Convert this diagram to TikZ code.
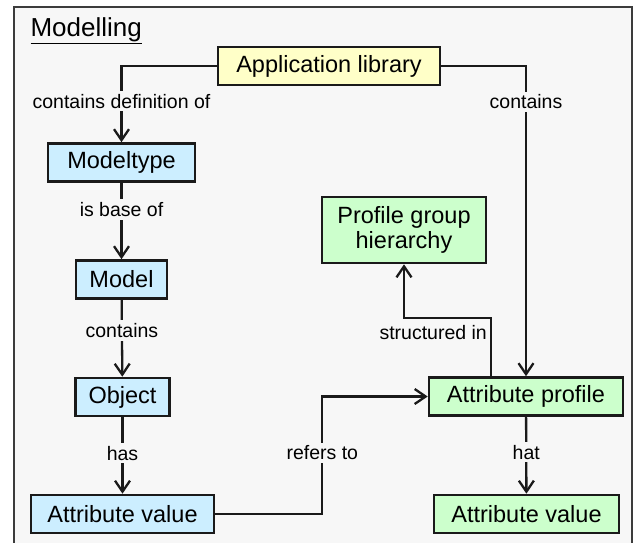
\documentclass[tikz,border=0pt]{standalone}
\usepackage{fontspec}
\setmainfont{Liberation Sans}
\usetikzlibrary{arrows.meta}
\definecolor{libyellow}{HTML}{FFFFC8}
\definecolor{modblue}{HTML}{CCEEFF}
\definecolor{profgreen}{HTML}{CCFFCC}
\definecolor{bggray}{HTML}{F7F7F7}
\definecolor{linecol}{HTML}{1A1A1A}
\begin{document}
\begin{tikzpicture}[
      x=1pt, y=-1pt,
      >={Straight Barb[length=11pt,width=15pt]},
      box/.style={draw=linecol, line width=2.6pt, minimum height=38pt,
        inner xsep=13pt, font=\fontsize{23.5}{25}\selectfont},
      libbox/.style={box, fill=libyellow},
      modbox/.style={box, fill=modblue},
      profbox/.style={box, fill=profgreen},
      lbl/.style={fill=bggray, inner sep=3pt, font=\fontsize{19.5}{22}\selectfont},
      link/.style={draw=linecol, line width=2.3pt},
    ]
    \useasboundingbox (0,0) rectangle (642,542);
    \draw[draw=linecol!85, line width=2.2pt, fill=bggray] (14,7) rectangle (632,560);
    \node[anchor=base west, font=\fontsize{26}{28}\selectfont] (title) at (27,36) {\underline{Modelling}};

    % boxes
    \node[libbox, minimum width=222pt] (app) at (329,66) {Application library};
    \node[modbox, minimum width=147pt] (mtype) at (121.5,162.5) {Modeltype};
    \node[modbox, minimum width=91pt] (model) at (121.5,279.5) {Model};
    \node[modbox, minimum width=93pt] (obj) at (122.5,397) {Object};
    \node[modbox, minimum width=183pt] (avb) at (122.5,514) {Attribute value};
    \node[profbox, minimum width=164pt, minimum height=66pt, align=center] (pgh) at (404,230)
      {Profile group\\hierarchy};
    \node[profbox, minimum width=194pt] (ap) at (526,396.5) {Attribute profile};
    \node[profbox, minimum width=185pt] (avg) at (526.5,514) {Attribute value};

    % connectors
    \draw[link,->] (app.west) -| node[lbl, pos=0.73] {contains definition of} (mtype.north);
    \draw[link,->] (app.east) -| node[lbl, pos=0.558] {contains} (ap.north);
    \draw[link,->] (mtype) -- node[lbl, pos=0.35] {is base of} (model);
    \draw[link,->] (model) -- node[lbl, pos=0.4] {contains} (obj);
    \draw[link,->] (obj) -- node[lbl, pos=0.47] {has} (avb);
    \draw[link,->] (ap) -- node[lbl, pos=0.46] {hat} (avg);
    \draw[link,->] (avb.east) -- ++(107,0) |- node[lbl, pos=0.26] {refers to} (ap.west);
    \draw[link,->] ([xshift=-35pt]ap.north) -- node[lbl, fill=none, pos=0.76, anchor=east] {structured in}
      ++(0,-58) -| (pgh.south);
  \end{tikzpicture}
\end{document}
